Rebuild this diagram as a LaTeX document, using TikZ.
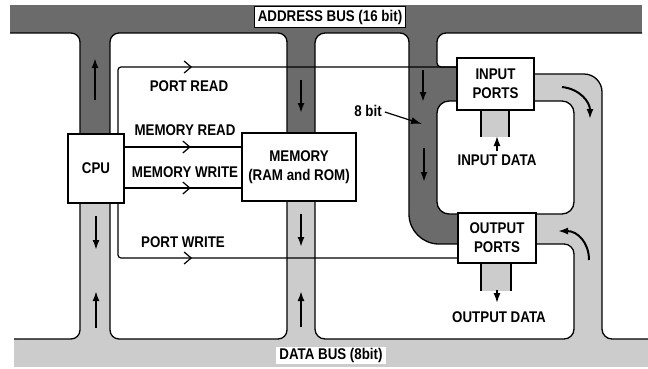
\documentclass[tikz,border=0pt]{standalone}
\usepackage{fontspec}
\setmainfont{Liberation Sans}[FakeStretch=0.86]
\usetikzlibrary{arrows.meta,decorations.markings}
\definecolor{busdark}{gray}{0.42}
\definecolor{buslight}{gray}{0.80}
\begin{document}
\begin{tikzpicture}[x=1pt,y=-1pt,
  every node/.style={font=\fontsize{15.5}{19}\selectfont\bfseries, inner sep=0pt},
  region/.style={fill=white, draw=black, line width=1.3pt},
  edgeline/.style={draw=black, line width=1.3pt},
  blk/.style={draw=black, fill=white, line width=1.5pt, align=center},
  sig/.style={line width=1.2pt, rounded corners=3pt},
  sigarrow/.style={postaction={decorate}, decoration={markings, mark=at position #1 with {\arrow{Straight Barb[length=7pt,width=12pt]}}}},
  busarrow/.style={line width=2pt, -{Latex[length=10pt,width=7pt]}},
  ]
\useasboundingbox (0,0) rectangle (648,368);
% bus fills
\fill[busdark] (10,5) rectangle (642,33);
\fill[buslight] (14,339) rectangle (648,367);
\fill[busdark] (70,30) rectangle (120,170);
\fill[buslight] (70,170) rectangle (120,342);
\fill[busdark] (277,30) rectangle (325,167);
\fill[buslight] (277,167) rectangle (325,342);
\fill[busdark] (399,30) rectangle (460,250);
\fill[buslight] (530,70) rectangle (612,342);
% white regions
\fill[white, rounded corners=9pt] (10,33) -- (80,33) -- (80,339) -- (10,339) -- cycle;
\draw[edgeline, rounded corners=9pt] (10,33) -- (80,33) -- (80,339) -- (14,339);
\draw[region, rounded corners=9pt] (110,33) rectangle (287,339);
\path[region] (315,33) [rounded corners=9pt] -- (409,33) [rounded corners=30pt] -- (409,244) [rounded corners=10pt] -- (574,244) -- (574,339) -- (315,339) -- cycle;
\draw[region, rounded corners=12pt] (437,101) rectangle (574,214);
\fill[white] (648,33) [rounded corners=9pt] -- (437,33) [rounded corners=4pt] -- (437,67) -- (490,67) -- (490,74) [rounded corners=18pt] -- (602,74) [rounded corners=10pt] -- (602,339) -- (648,339) -- cycle;
\draw[edgeline] (642,33) [rounded corners=9pt] -- (437,33) [rounded corners=4pt] -- (437,67) -- (490,67) -- (490,74) [rounded corners=18pt] -- (602,74) [rounded corners=10pt] -- (602,339) -- (648,339);
% data channels
\fill[buslight] (481,108) rectangle (509,137);
\draw[edgeline] (481,108) -- (481,137) (509,108) -- (509,137);
\fill[buslight] (481,262) rectangle (511,291);
\draw[edgeline] (481,262) -- (481,291) (511,262) -- (511,291);
% blocks
\node[blk, minimum width=56pt, minimum height=69pt] (cpu) at (96,168.5) {CPU};
\node[blk, minimum width=114pt, minimum height=68pt] (mem) at (299,167) {MEMORY\\(RAM and ROM)};
\node[blk, minimum width=77pt, minimum height=52pt] (inp) at (495.5,84) {INPUT\\PORTS};
\node[blk, minimum width=78pt, minimum height=50pt] (outp) at (497,238) {OUTPUT\\PORTS};
% control lines
\coordinate (prc) at (118,67);
\coordinate (pwc) at (118,258);
\coordinate (mrc) at (0,147);
\coordinate (mwc) at (0,188);
\draw[sig, sigarrow=139pt] (cpu.north -| prc) -- (prc) -- (prc -| inp.west);
\draw[sig, sigarrow=66pt] (cpu.east |- mrc) -- (mem.west |- mrc);
\draw[sig, sigarrow=66pt] (cpu.east |- mwc) -- (mem.west |- mwc);
\draw[sig, sigarrow=127pt] (cpu.south -| pwc) -- (pwc) -- (pwc -| outp.west);
% bus direction arrows
\draw[busarrow] (95,100) -- (95,58);
\draw[busarrow] (96,216) -- (96,250);
\draw[busarrow] (96,328) -- (96,291);
\draw[busarrow] (301,80) -- (301,113);
\draw[busarrow] (301,214) -- (301,247);
\draw[busarrow] (301,327) -- (301,291);
\draw[busarrow] (423,70) -- (423,102);
\draw[busarrow] (424,148) -- (424,182);
\draw[busarrow, line width=1.6pt] (497,151) -- (497,136);
\draw[busarrow, line width=1.6pt] (497,290) -- (497,303);
\draw[busarrow] (562,87) .. controls (580,89) and (590,102) .. (590,119);
\draw[busarrow] (589,260) .. controls (589,243) and (578,231) .. (558,231);
% labels
\node (lpr) at (189,86) {PORT READ};
\node (lmr) at (185,130) {MEMORY READ};
\node (lmw) at (185,172) {MEMORY WRITE};
\node (lpw) at (183,242) {PORT WRITE};
\node (lindata) at (497,160) {INPUT DATA};
\node (loutdata) at (499,317) {OUTPUT DATA};
\node (l8) at (368,111) {8 bit};
\coordinate (r8) at (422,124);
\draw[line width=1.2pt, -{Latex[length=11pt,width=7pt]}] (l8.east) ++(3,1) -- (r8);
\node[draw, fill=white, line width=1.2pt, inner xsep=3pt, minimum height=21pt] (abus) at (330,17) {ADDRESS BUS (16 bit)};
\node[fill=white, inner xsep=3pt, minimum height=17pt] (dbus) at (331,355) {DATA BUS (8bit)};
\end{tikzpicture}
\end{document}
